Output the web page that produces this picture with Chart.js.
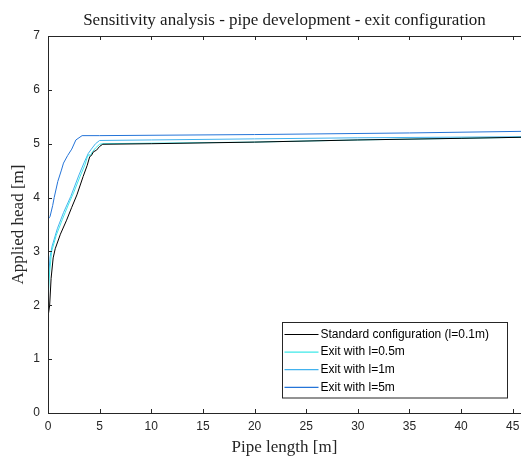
<!DOCTYPE html>
<html>
<head>
<meta charset="utf-8">
<script src="https://cdn.jsdelivr.net/npm/chart.js@4/dist/chart.umd.min.js"></script>
<style>
html,body{margin:0;padding:0;background:#fff;overflow:hidden;}
#wrap{width:521px;height:456px;position:relative;}
</style>
</head>
<body>
<div id="wrap"><canvas id="c" width="521" height="456"></canvas></div>
<script>
// ---- data ----
const seriesLabels = ["Standard configuration (l=0.1m)", "Exit with l=0.5m", "Exit with l=1m", "Exit with l=5m"];
const seriesColors = ["#000000", "#3ee8e8", "#42b2ee", "#2474d8"];

const stdX = [0, 0.05, 0.16, 0.3, 0.5, 0.7, 1.2, 1.8, 2.3, 2.8, 3.4, 3.8, 4.04, 4.2, 4.4, 4.7, 5.0, 5.3, 10, 20, 30, 40, 46];
const stdY = [1.6, 1.85, 2.0, 2.5, 2.88, 3.05, 3.32, 3.58, 3.82, 4.05, 4.39, 4.6, 4.76, 4.78, 4.85, 4.88, 4.95, 4.99, 5.0, 5.03, 5.07, 5.1, 5.12];

const e05X = [0, 0.05, 0.15, 0.35, 0.8, 1.4, 2.0, 2.5, 3.1, 3.6, 3.8, 3.95, 4.1, 4.3, 4.6, 5.0, 5.3, 20, 30, 46];
const e05Y = [2.0, 2.25, 2.6, 3.0, 3.3, 3.6, 3.88, 4.1, 4.39, 4.62, 4.75, 4.8, 4.78, 4.85, 4.92, 4.99, 5.0, 5.03, 5.07, 5.12];

const e1X = [0, 0.05, 0.2, 0.4, 0.9, 1.5, 2.2, 3.0, 3.5, 3.9, 4.2, 4.6, 5.0, 10, 20, 30, 46];
const e1Y = [2.15, 2.5, 2.9, 3.1, 3.42, 3.72, 4.02, 4.42, 4.65, 4.82, 4.9, 5.0, 5.06, 5.07, 5.09, 5.11, 5.13];

const e5X = [0, 0.02, 0.2, 0.45, 0.6, 0.95, 1.3, 1.5, 1.9, 2.3, 2.7, 3.3, 5, 20, 35, 46];
const e5Y = [3.3, 3.6, 3.65, 3.85, 4.0, 4.3, 4.51, 4.64, 4.78, 4.9, 5.07, 5.15, 5.15, 5.17, 5.2, 5.23];

const xTicks = [0, 5, 10, 15, 20, 25, 30, 35, 40, 45];
const yTicks = [0, 1, 2, 3, 4, 5, 6, 7];

function pts(xs, ys){ return xs.map((x,i)=>({x:x, y:ys[i]})); }
const seriesData = [pts(stdX,stdY), pts(e05X,e05Y), pts(e1X,e1Y), pts(e5X,e5Y)];

const axisColor = "#262626";
const serif = "'Liberation Serif', 'DejaVu Serif', serif";
const sans = "'Liberation Sans', Arial, sans-serif";

// box, inward ticks and boxed legend (MATLAB style)
const boxPlugin = {
  id: 'boxPlugin',
  afterDatasetsDraw(chart){
    const {ctx, chartArea:a, scales:{x, y}} = chart;
    ctx.save();
    ctx.strokeStyle = axisColor;
    ctx.lineWidth = 1;
    ctx.beginPath();
    ctx.moveTo(a.left+0.5, a.top+0.5); ctx.lineTo(a.right+2, a.top+0.5);
    ctx.moveTo(a.left+0.5, a.top); ctx.lineTo(a.left+0.5, a.bottom+0.5);
    ctx.moveTo(a.left, a.bottom+0.5); ctx.lineTo(a.right+2, a.bottom+0.5);
    const tl = 4;
    x.ticks.forEach(t=>{
      const px = Math.round(x.getPixelForValue(t.value))+0.5;
      ctx.moveTo(px, a.bottom); ctx.lineTo(px, a.bottom-tl);
      ctx.moveTo(px, a.top); ctx.lineTo(px, a.top+tl);
    });
    y.ticks.forEach(t=>{
      const py = Math.round(y.getPixelForValue(t.value))+0.5;
      ctx.moveTo(a.left, py); ctx.lineTo(a.left+tl, py);
    });
    ctx.stroke();

    // legend
    const lx = 282.5, ly = 322.5, lw = 225, lh = 75.5;
    ctx.fillStyle = "#fff";
    ctx.fillRect(lx, ly, lw, lh);
    ctx.strokeStyle = "#262626";
    ctx.lineWidth = 1;
    ctx.strokeRect(lx, ly, lw, lh);
    ctx.font = "12px " + sans;
    ctx.textBaseline = "middle";
    ctx.textAlign = "left";
    chart.data.datasets.forEach((ds, i)=>{
      const yy = ly + 12 + i*17.6;
      ctx.strokeStyle = ds.borderColor;
      ctx.lineWidth = 1.2;
      ctx.beginPath(); ctx.moveTo(lx+2, yy); ctx.lineTo(lx+36, yy); ctx.stroke();
      ctx.fillStyle = "#000";
      ctx.fillText(ds.label, lx+38, yy);
    });
    ctx.restore();
  }
};

new Chart(document.getElementById('c'), {
  type: 'line',
  data: {
    datasets: seriesLabels.map((lab, i)=>({
      label: lab,
      data: seriesData[i],
      borderColor: seriesColors[i],
      backgroundColor: seriesColors[i],
      borderWidth: 1,
      pointRadius: 0,
      tension: 0,
      fill: false
    }))
  },
  options: {
    responsive: false,
    animation: false,
    layout: { padding: { left: 0, right: 0, top: 0, bottom: 0 } },
    plugins: {
      legend: { display: false },
      tooltip: { enabled: false },
      title: {
        display: true,
        fullSize: false,
        text: 'Sensitivity analysis - pipe development - exit configuration',
        color: '#1a1a1a',
        font: { family: serif, size: 17, weight: 'normal', lineHeight: 1.2 },
        padding: { top: 10, bottom: 5.6 }
      }
    },
    scales: {
      x: {
        type: 'linear',
        min: 0, max: 45.8,
        grid: { display: false, drawTicks: false },
        border: { display: false },
        ticks: {
          color: axisColor,
          padding: 6,
          maxRotation: 0,
          autoSkip: false,
          font: { family: sans, size: 12 }
        },
        afterBuildTicks(s){ s.ticks = xTicks.map(v=>({value:v})); },
        afterFit(s){ s.height = 43; s.paddingLeft = 0; s.paddingRight = 0; },
        title: {
          display: true, text: 'Pipe length [m]', color: axisColor,
          font: { family: serif, size: 17 },
          padding: { top: 0, bottom: -2 }
        }
      },
      y: {
        type: 'linear',
        min: 0, max: 7,
        grid: { display: false, drawTicks: false },
        border: { display: false },
        ticks: {
          color: axisColor,
          padding: 8,
          autoSkip: false,
          font: { family: sans, size: 12 }
        },
        afterBuildTicks(s){ s.ticks = yTicks.map(v=>({value:v})); },
        afterFit(s){ s.width = 48; },
        title: {
          display: true, text: 'Applied head [m]', color: axisColor,
          font: { family: serif, size: 17 },
          padding: { top: 8, bottom: 0 }
        }
      }
    }
  },
  plugins: [boxPlugin]
});
</script>
</body>
</html>
